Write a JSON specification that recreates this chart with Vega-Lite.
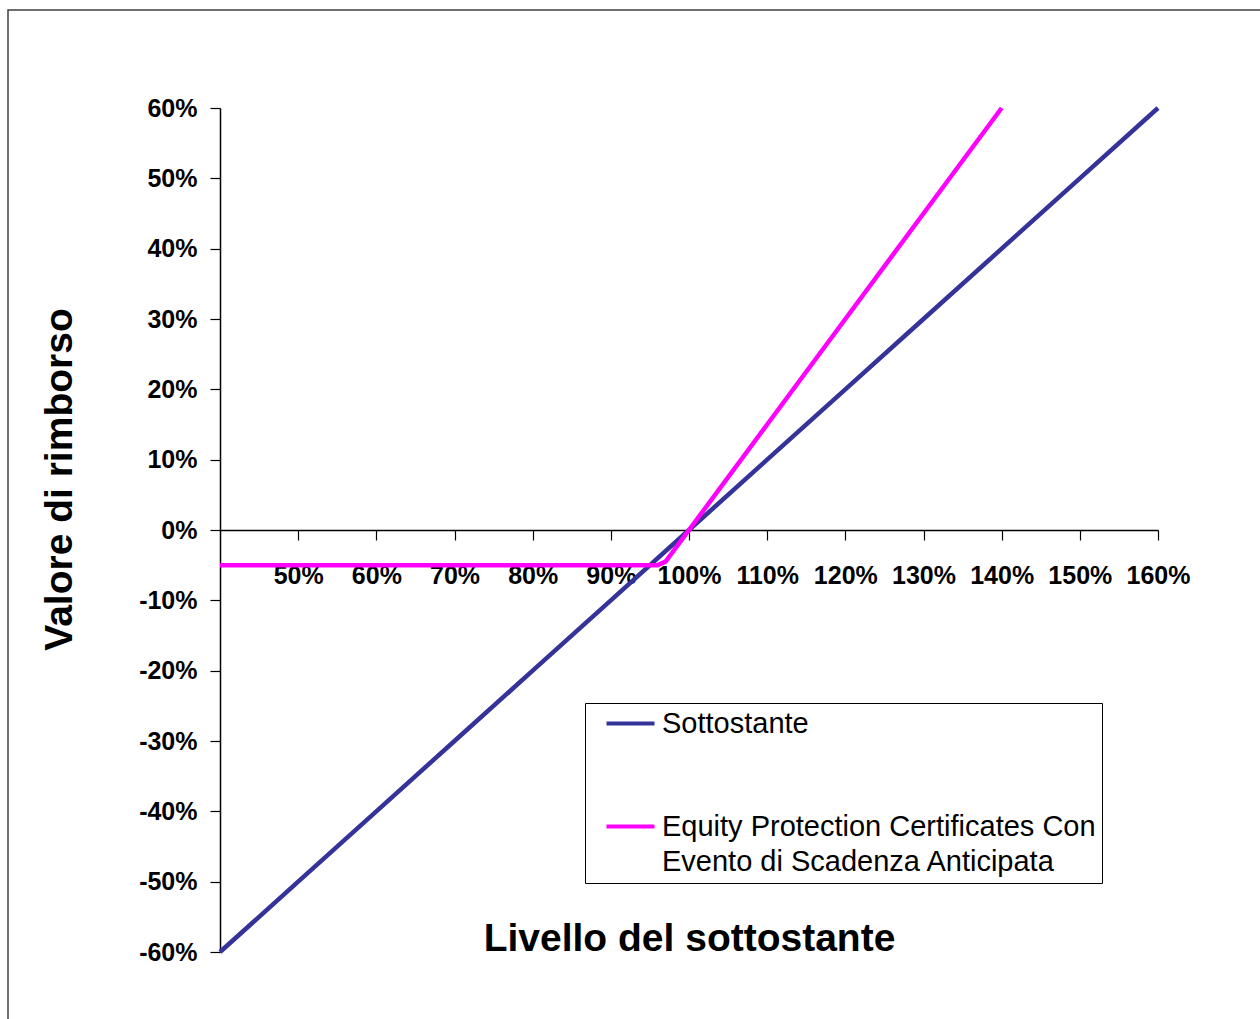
{
  "$schema": "https://vega.github.io/schema/vega-lite/v6.json",
  "autosize": "none",
  "width": 1256,
  "height": 1013,
  "padding": {"left": 8, "top": 10, "right": -4, "bottom": -4},
  "background": "white",
  "config": {
    "view": {"stroke": "#404040", "strokeWidth": 1.5},
    "font": "Liberation Sans"
  },
  "data": {
    "values": [
      {"livello": 40, "valore": -60, "serie": "Sottostante"},
      {"livello": 50, "valore": -50, "serie": "Sottostante"},
      {"livello": 60, "valore": -40, "serie": "Sottostante"},
      {"livello": 70, "valore": -30, "serie": "Sottostante"},
      {"livello": 80, "valore": -20, "serie": "Sottostante"},
      {"livello": 90, "valore": -10, "serie": "Sottostante"},
      {"livello": 100, "valore": 0, "serie": "Sottostante"},
      {"livello": 110, "valore": 10, "serie": "Sottostante"},
      {"livello": 120, "valore": 20, "serie": "Sottostante"},
      {"livello": 130, "valore": 30, "serie": "Sottostante"},
      {"livello": 140, "valore": 40, "serie": "Sottostante"},
      {"livello": 150, "valore": 50, "serie": "Sottostante"},
      {"livello": 160, "valore": 60, "serie": "Sottostante"},
      {"livello": 40, "valore": -5, "serie": "Equity Protection Certificates Con Evento di Scadenza Anticipata"},
      {"livello": 50, "valore": -5, "serie": "Equity Protection Certificates Con Evento di Scadenza Anticipata"},
      {"livello": 60, "valore": -5, "serie": "Equity Protection Certificates Con Evento di Scadenza Anticipata"},
      {"livello": 70, "valore": -5, "serie": "Equity Protection Certificates Con Evento di Scadenza Anticipata"},
      {"livello": 80, "valore": -5, "serie": "Equity Protection Certificates Con Evento di Scadenza Anticipata"},
      {"livello": 90, "valore": -5, "serie": "Equity Protection Certificates Con Evento di Scadenza Anticipata"},
      {"livello": 96, "valore": -5, "serie": "Equity Protection Certificates Con Evento di Scadenza Anticipata"},
      {"livello": 97, "valore": -4.5, "serie": "Equity Protection Certificates Con Evento di Scadenza Anticipata"},
      {"livello": 100, "valore": 0, "serie": "Equity Protection Certificates Con Evento di Scadenza Anticipata"},
      {"livello": 110, "valore": 15, "serie": "Equity Protection Certificates Con Evento di Scadenza Anticipata"},
      {"livello": 120, "valore": 30, "serie": "Equity Protection Certificates Con Evento di Scadenza Anticipata"},
      {"livello": 130, "valore": 45, "serie": "Equity Protection Certificates Con Evento di Scadenza Anticipata"},
      {"livello": 140, "valore": 60, "serie": "Equity Protection Certificates Con Evento di Scadenza Anticipata"}
    ]
  },
  "mark": {"type": "line", "strokeWidth": 4.5},
  "encoding": {
    "x": {
      "field": "livello",
      "type": "quantitative",
      "scale": {"domain": [40, 160], "range": [212, 1150], "nice": false, "zero": false},
      "axis": {
        "orient": "bottom",
        "offset": -493,
        "values": [50, 60, 70, 80, 90, 100, 110, 120, 130, 140, 150, 160],
        "labelExpr": "datum.value + '%'",
        "labelFontSize": 25,
        "labelFontWeight": "bold",
        "labelColor": "black",
        "labelPadding": 23,
        "labelFlush": false,
        "labelOverlap": false,
        "labelBound": false,
        "tickSize": 10,
        "tickColor": "black",
        "tickWidth": 1.2,
        "domainColor": "black",
        "domainWidth": 1.5,
        "grid": false,
        "title": "Livello del sottostante",
        "titleFontSize": 39,
        "titleFontWeight": "bold",
        "titleColor": "black",
        "titleY": 408,
        "titleBaseline": "middle"
      }
    },
    "y": {
      "field": "valore",
      "type": "quantitative",
      "scale": {"domain": [-60, 60], "range": [942, 98], "nice": false, "zero": false},
      "axis": {
        "orient": "left",
        "offset": -212,
        "values": [-60, -50, -40, -30, -20, -10, 0, 10, 20, 30, 40, 50, 60],
        "labelExpr": "datum.value + '%'",
        "labelFontSize": 25,
        "labelFontWeight": "bold",
        "labelColor": "black",
        "labelPadding": 13,
        "labelFlush": false,
        "labelOverlap": false,
        "tickSize": 10,
        "tickColor": "black",
        "tickWidth": 1.2,
        "domainColor": "black",
        "domainWidth": 1.5,
        "grid": false,
        "title": "Valore di rimborso",
        "titleFontSize": 39,
        "titleFontWeight": "bold",
        "titleColor": "black",
        "titleAngle": -90,
        "titleX": -161,
        "titleY": 469,
        "titleBaseline": "middle",
        "titleAlign": "center"
      }
    },
    "color": {
      "field": "serie",
      "type": "nominal",
      "scale": {
        "domain": ["Sottostante", "Equity Protection Certificates Con Evento di Scadenza Anticipata"],
        "range": ["#333399", "#FF00FF"]
      },
      "legend": {
        "orient": "none",
        "legendX": 577,
        "legendY": 693,
        "title": null,
        "strokeColor": "black",
        "fillColor": "white",
        "padding": 6,
        "symbolType": "M-2,0H2",
        "symbolSize": 576,
        "symbolStrokeWidth": 4,
        "symbolOffset": 25,
        "labelFont": "Liberation Sans",
        "labelFontSize": 29,
        "labelColor": "black",
        "labelOffset": 17,
        "labelLimit": 1000,
        "rowPadding": 73,
        "labelExpr": "datum.label == 'Sottostante' ? datum.label : ['Equity Protection Certificates Con', 'Evento di Scadenza Anticipata']",
        "encode": {
          "labels": {"update": {"lineHeight": {"value": 35}}}
        }
      }
    }
  }
}
